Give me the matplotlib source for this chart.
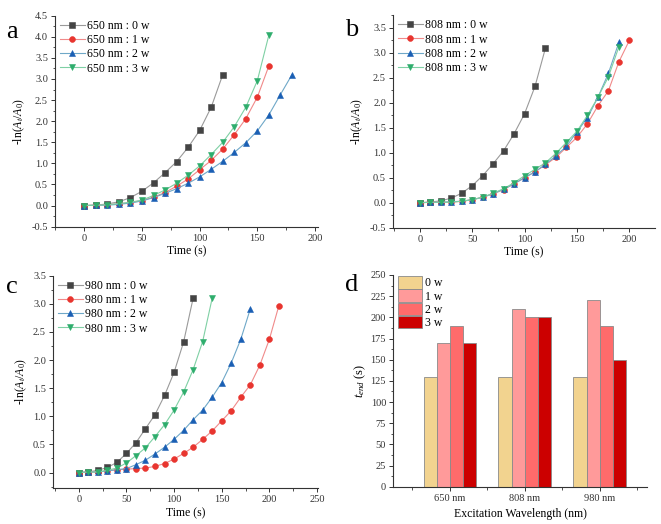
import numpy as np
import matplotlib
matplotlib.use("Agg")
import matplotlib.pyplot as plt
from matplotlib.ticker import MultipleLocator, AutoMinorLocator, FormatStrFormatter
from matplotlib.patches import Patch

plt.rcParams['font.family'] = ['Liberation Serif', 'DejaVu Serif']
plt.rcParams['mathtext.fontset'] = 'custom'
plt.rcParams['mathtext.rm'] = 'Liberation Serif'
plt.rcParams['mathtext.it'] = 'Liberation Serif:italic'

# ---- data ----
powers = ['0 w', '1 w', '2 w', '3 w']

# panel a: 650 nm
a_t0 = np.arange(0, 130, 10)
a_y0 = [0, 0.01, 0.04, 0.09, 0.19, 0.34, 0.54, 0.78, 1.04, 1.38, 1.78, 2.33, 3.10]
a_t1 = np.arange(0, 170, 10)
a_y1 = [0, 0.01, 0.02, 0.04, 0.07, 0.12, 0.20, 0.31, 0.46, 0.63, 0.85, 1.07, 1.34, 1.68, 2.06, 2.57, 3.31]
a_t2 = np.arange(0, 190, 10)
a_y2 = [0, 0.01, 0.01, 0.03, 0.06, 0.11, 0.19, 0.29, 0.40, 0.53, 0.68, 0.86, 1.05, 1.26, 1.49, 1.77, 2.15, 2.63, 3.10]
a_t3 = np.arange(0, 170, 10)
a_y3 = [0, 0.01, 0.02, 0.05, 0.08, 0.13, 0.24, 0.37, 0.53, 0.72, 0.94, 1.21, 1.50, 1.87, 2.33, 2.96, 4.04]

# panel b: 808 nm
b_t0 = np.arange(0, 130, 10)
b_y0 = [0, 0.01, 0.04, 0.09, 0.19, 0.34, 0.54, 0.78, 1.04, 1.38, 1.78, 2.33, 3.10]
b_t1 = np.arange(0, 210, 10)
b_y1 = [0, 0.01, 0.01, 0.01, 0.03, 0.06, 0.11, 0.18, 0.26, 0.38, 0.50, 0.62, 0.76, 0.91, 1.11, 1.31, 1.58, 1.94, 2.24, 2.82, 3.25]
b_t2 = np.arange(0, 200, 10)
b_y2 = [0, 0.01, 0.01, 0.02, 0.03, 0.06, 0.11, 0.18, 0.27, 0.38, 0.50, 0.62, 0.77, 0.94, 1.13, 1.42, 1.70, 2.11, 2.59, 3.21]
b_t3 = np.arange(0, 200, 10)
b_y3 = [0, 0.01, 0.01, 0.01, 0.03, 0.06, 0.11, 0.19, 0.28, 0.40, 0.54, 0.67, 0.80, 0.99, 1.21, 1.43, 1.75, 2.11, 2.52, 3.12]

# panel c: 980 nm
c_t0 = np.arange(0, 130, 10)
c_y0 = [0, 0.01, 0.04, 0.09, 0.18, 0.34, 0.53, 0.78, 1.03, 1.37, 1.78, 2.32, 3.10]
c_t1 = np.arange(0, 220, 10)
c_y1 = [0, 0.01, 0.01, 0.03, 0.05, 0.06, 0.07, 0.08, 0.11, 0.16, 0.24, 0.34, 0.45, 0.59, 0.74, 0.92, 1.10, 1.34, 1.56, 1.91, 2.37, 2.97]
c_t2 = np.arange(0, 190, 10)
c_y2 = [0, 0.01, 0.01, 0.03, 0.05, 0.07, 0.14, 0.22, 0.33, 0.45, 0.59, 0.75, 0.94, 1.11, 1.34, 1.60, 1.95, 2.37, 2.91]
c_t3 = np.arange(0, 150, 10)
c_y3 = [0, 0.01, 0.01, 0.04, 0.08, 0.17, 0.30, 0.44, 0.64, 0.85, 1.11, 1.43, 1.83, 2.33, 3.10]

# panel d: t_end
wavelengths = ['650 nm', '808 nm', '980 nm']
t_end_0w = [130, 130, 130]
t_end_1w = [170, 210, 220]
t_end_2w = [190, 200, 190]
t_end_3w = [170, 200, 150]

# ---- styles ----
mk_colors = ['#444444', '#e8352f', '#1a5fb4', '#2ead6c']
ln_colors = ['#9a9a9a', '#f08a8a', '#6fa8c8', '#7fd0a4']
markers = ['s', 'o', '^', 'v']
bar_colors = ['#f2d38f', '#ff9a9a', '#ff6b6b', '#cc0000']

W, H = 661, 524
fig = plt.figure(figsize=(W / 100, H / 100), dpi=100)


def box(x0, y0, x1, y1):
    # pixel box -> figure fraction
    return [x0 / W, 1 - y1 / H, (x1 - x0) / W, (y1 - y0) / H]


def style_axes(ax):
    for s in ['top', 'right']:
        ax.spines[s].set_visible(False)
    for s in ['left', 'bottom']:
        ax.spines[s].set_color('#333333')
        ax.spines[s].set_linewidth(0.8)
    ax.tick_params(which='major', direction='out', length=3, width=0.7,
                   labelsize=7.5, colors='#333333', pad=2)
    ax.tick_params(which='minor', direction='out', length=1.8, width=0.6, colors='#333333')


def line_panel(ax, series, nm, xlim, ylim):
    for i, (t, y) in enumerate(series):
        ax.plot(t, y, '-', color=ln_colors[i], lw=0.8,
                marker=markers[i], markersize=4.2, markerfacecolor=mk_colors[i],
                markeredgecolor=mk_colors[i], markeredgewidth=0.4,
                label='%s nm : %s' % (nm, powers[i]))
    ax.set_xlim(*xlim)
    ax.set_ylim(*ylim)
    ax.xaxis.set_major_locator(MultipleLocator(50))
    ax.xaxis.set_minor_locator(AutoMinorLocator(2))
    ax.yaxis.set_major_locator(MultipleLocator(0.5))
    ax.yaxis.set_minor_locator(AutoMinorLocator(2))
    ax.yaxis.set_major_formatter(FormatStrFormatter('%.1f'))
    ax.set_xlabel('Time (s)', fontsize=8.5, labelpad=2)
    ax.set_ylabel('-ln($A_t$/$A_0$)', fontsize=8.5, labelpad=3)
    style_axes(ax)
    ax.legend(loc='upper left', frameon=False, fontsize=8.5, handlelength=2.1,
              handletextpad=0.2, labelspacing=0.18, borderaxespad=0.0,
              borderpad=0.2, bbox_to_anchor=(0.01, 0.99))


ax_a = fig.add_axes(box(55, 15.7, 318, 226.7))
line_panel(ax_a, [(a_t0, a_y0), (a_t1, a_y1), (a_t2, a_y2), (a_t3, a_y3)], '650',
           (-25.4, 202.6), (-0.5, 4.5))

ax_b = fig.add_axes(box(393, 15, 655, 227.7))
line_panel(ax_b, [(b_t0, b_y0), (b_t1, b_y1), (b_t2, b_y2), (b_t3, b_y3)], '808',
           (-25.5, 224.5), (-0.5, 3.76))

ax_c = fig.add_axes(box(53, 275.7, 318, 488.3))
line_panel(ax_c, [(c_t0, c_y0), (c_t1, c_y1), (c_t2, c_y2), (c_t3, c_y3)], '980',
           (-27, 251), (-0.28, 3.5))

# panel d
ax_d = fig.add_axes(box(393, 275, 647, 486.7))
x = np.arange(len(wavelengths))
bw = 0.176
for i, vals in enumerate([t_end_0w, t_end_1w, t_end_2w, t_end_3w]):
    ax_d.bar(x + (i - 1.5) * bw, vals, width=bw, color=bar_colors[i],
             edgecolor='#8a8a8a', linewidth=0.6, label=powers[i])
ax_d.set_xlim(-0.76, 2.63)
ax_d.set_ylim(0, 250)
ax_d.set_xticks(x)
ax_d.set_xticklabels(wavelengths)
ax_d.set_xticks([-0.5, 0.5, 1.5, 2.5], minor=True)
ax_d.yaxis.set_major_locator(MultipleLocator(25))
ax_d.yaxis.set_minor_locator(AutoMinorLocator(2))
ax_d.set_xlabel('Excitation Wavelength (nm)', fontsize=8.5, labelpad=4)
ax_d.set_ylabel('$t_{end}$ (s)', fontsize=9, labelpad=2)
style_axes(ax_d)
handles = [Patch(facecolor=bar_colors[i], edgecolor='#8a8a8a', linewidth=0.6) for i in range(4)]
ax_d.legend(handles, powers, loc='upper left', frameon=False, fontsize=8.5,
            handlelength=2.0, handleheight=1.25, handletextpad=0.3,
            labelspacing=0.0, borderaxespad=0.0, borderpad=0.1,
            bbox_to_anchor=(0.015, 1.0))

# panel letters
for lab, px, py in [('a', 6, 38), ('b', 345, 36), ('c', 6, 293), ('d', 345, 291)]:
    fig.text(px / W, 1 - py / H, lab, fontsize=19, ha='left', va='baseline')

fig.savefig('out.png', dpi=100)
